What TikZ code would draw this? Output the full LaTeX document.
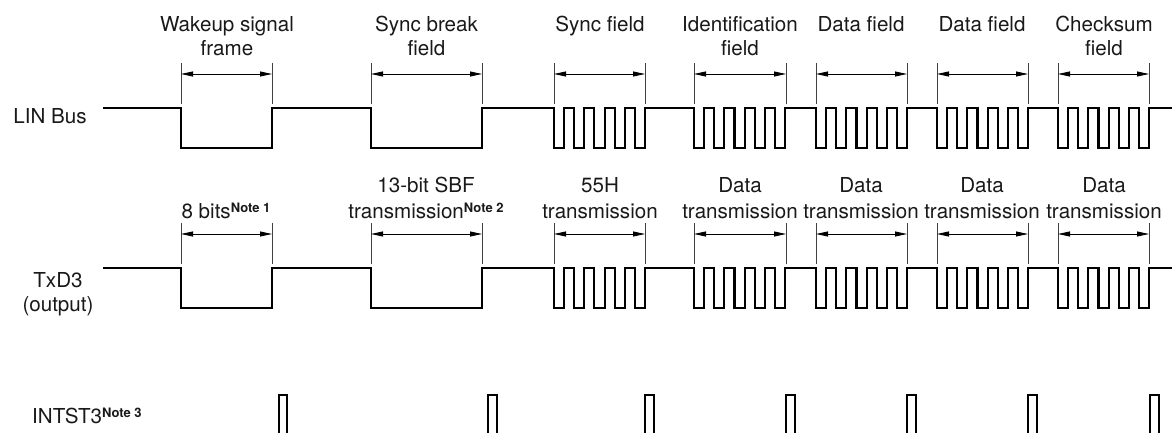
\documentclass[tikz,border=0pt]{standalone}
\usepackage{fontspec}
\setmainfont{TeX Gyre Heros}
\usetikzlibrary{arrows.meta}
\newcommand\notesup[1]{\raisebox{5.8pt}{\fontsize{13}{15}\selectfont\bfseries Note #1}}
\begin{document}
\begin{tikzpicture}[x=1pt,y=-1pt,
  wave/.style={line width=2.1pt, line join=miter},
  tickline/.style={line width=0.8pt, black!75},
  dimline/.style={line width=0.8pt, {Triangle[length=12pt,width=5pt]}-{Triangle[length=12pt,width=5pt]}},
  lbl/.style={anchor=base, inner sep=0pt, font=\fontsize{20.6}{25}\selectfont, text=black!90},
]
\useasboundingbox (0,0) rectangle (1172,433);

% ---------- waveforms (LIN Bus and TxD3) ----------
\foreach \yo/\nm in {0/lin,160/txd}{
\begin{scope}[shift={(0,\yo)}]
\draw[wave] (103,108) -- (181,108) -- (181,148) -- (272,148) -- (272,108)
  -- (371,108) -- (371,148) -- (482,148) -- (482,108)
  foreach \s in {554,694,816,937,1058} { -- (\s,108) -- (\s,148)
    -- ++(10.11,0) -- ++(0,-40) -- ++(10.11,0) -- ++(0,40)
    -- ++(10.11,0) -- ++(0,-40) -- ++(10.11,0) -- ++(0,40)
    -- ++(10.11,0) -- ++(0,-40) -- ++(10.11,0) -- ++(0,40)
    -- ++(10.11,0) -- ++(0,-40) -- ++(10.11,0) -- ++(0,40)
    -- ++(10.11,0) -- ++(0,-40) }
  -- (1172,108);
\foreach \a/\b [count=\i] in {181/272,371/482,554/645,694/786,816/907,937/1028,1058/1149}{
  \coordinate (\nm\i a) at (\a,74);
  \coordinate (\nm\i b) at (\b,74);
  \draw[tickline] (\a,63) -- (\a,104);
  \draw[tickline] (\b,63) -- (\b,104);
  \draw[dimline] (\nm\i a) -- (\nm\i b);
}
\end{scope}
}

% ---------- INTST3 pulses ----------
\foreach \a/\b in {279/287,488/497,645/654,786/795,907/916,1028/1037,1150/1159}{
  \draw[wave] (\a,433) -- (\a,395) -- (\b,395) -- (\b,433);
}

% ---------- row labels ----------
\node[lbl] (linlbl) at (50,124) {LIN Bus};
\node[lbl] (txdlbl) at (58,287) {TxD3};
\node[lbl] (txdout) at (58,311) {(output)};
\node[lbl, anchor=base west] (intlbl) at (32,423) {INTST3\notesup{3}};

% ---------- top row labels ----------
\node[lbl] (t1a) at (227,32) {Wakeup signal};
\node[lbl] (t1b) at (227,56) {frame};
\node[lbl] (t2a) at (426.5,32) {Sync break};
\node[lbl] (t2b) at (426.5,56) {field};
\node[lbl] (t3a) at (600,32) {Sync field};
\node[lbl] (t4a) at (740,32) {Identification};
\node[lbl] (t4b) at (740,56) {field};
\node[lbl] (t5a) at (861,32) {Data field};
\node[lbl] (t6a) at (982,32) {Data field};
\node[lbl] (t7a) at (1104,32) {Checksum};
\node[lbl] (t7b) at (1104,56) {field};

% ---------- TxD3 row labels ----------
\node[lbl] (x1b) at (226,218) {8 bits\notesup{1}};
\node[lbl] (x2a) at (426,192) {13-bit SBF};
\node[lbl] (x2b) at (426,218) {transmission\notesup{2}};
\node[lbl] (x3a) at (600,192) {55H};
\node[lbl] (x3b) at (600,218) {transmission};
\node[lbl] (x4a) at (740,192) {Data};
\node[lbl] (x4b) at (740,218) {transmission};
\node[lbl] (x5a) at (861,192) {Data};
\node[lbl] (x5b) at (861,218) {transmission};
\node[lbl] (x6a) at (982,192) {Data};
\node[lbl] (x6b) at (982,218) {transmission};
\node[lbl] (x7a) at (1104,192) {Data};
\node[lbl] (x7b) at (1104,218) {transmission};
\end{tikzpicture}
\end{document}
